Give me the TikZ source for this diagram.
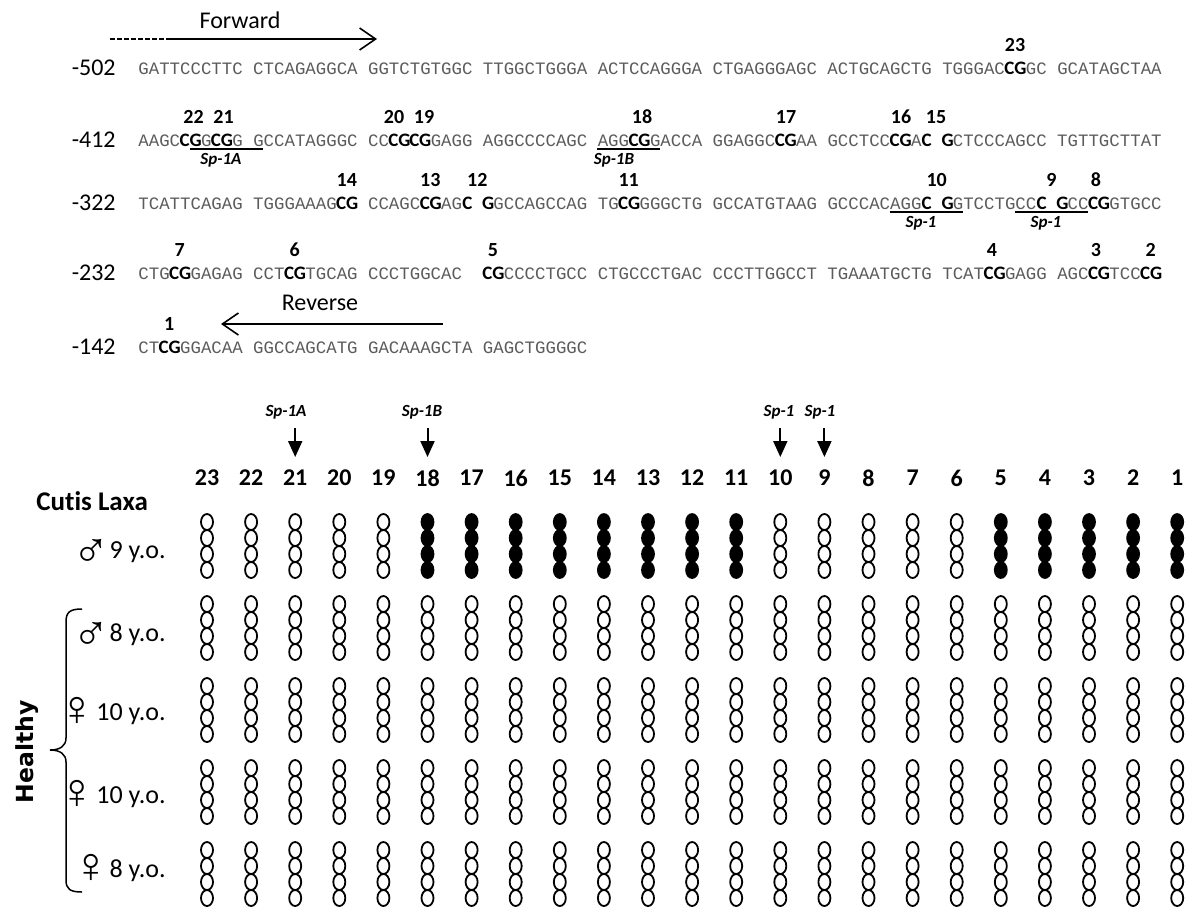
\documentclass[tikz,border=0pt]{standalone}
\usepackage{fontspec}
\setmainfont{Carlito}[Numbers=Lining,Ligatures=NoCommon]
\newfontfamily\seqfont{Liberation Mono}
\newfontfamily\gsym{Liberation Sans}
\newfontfamily\hfont{DejaVu Sans}
\usetikzlibrary{arrows.meta}
\definecolor{seqgray}{HTML}{5C5C5C}
% width of one character of the sequence font
\newlength\cw
\setlength\cw{5.22pt}
% bold CpG letters kept on the character grid
\newcommand\bz[1]{\makebox[\cw][c]{\normalfont\bfseries\fontsize{9.5}{10}\selectfont\color{black}#1}}
\newcommand\cgp{\makebox[2\cw][c]{\normalfont\bfseries\fontsize{9.5}{10}\selectfont\color{black}CG}}
% sex signs set in front of the ages
\newcommand\malesign{\raisebox{-4.5pt}[0pt][0pt]{\gsym\fontsize{25}{25}\selectfont ♂}}
\newcommand\femsign{\raisebox{-2.5pt}[0pt][0pt]{\gsym\fontsize{25}{25}\selectfont ♀}}
\begin{document}
\begin{tikzpicture}[x=0.5pt,y=-0.5pt,
  seqrow/.style={anchor=west,inner sep=0pt,text=seqgray,font=\seqfont\fontsize{8.7}{10}\selectfont},
  poslab/.style={anchor=east,inner sep=0pt,font=\fontsize{12}{14}\selectfont},
  cgnum/.style={inner sep=0pt,font=\bfseries\fontsize{10}{12}\selectfont},
  sitelab/.style={inner sep=0pt,font=\bfseries\itshape\fontsize{8.5}{10}\selectfont},
  siteline/.style={line width=1.4pt},
  primer/.style={line width=0.8pt},
  primertip/.style={-{Straight Barb[length=8pt,width=11pt]}},
  primerlab/.style={inner sep=0pt,font=\fontsize{12}{14}\selectfont},
  colnum/.style={inner sep=0pt,font=\bfseries\fontsize{12}{14}\selectfont},
  sitearrow/.style={line width=1pt,-{Triangle[length=8pt,width=7pt]}},
  openc/.style={draw=black,line width=0.9pt},
  agelab/.style={anchor=base east,inner sep=0pt,font=\fontsize{13}{15}\selectfont},
  grouplab/.style={inner sep=0pt,font=\bfseries\fontsize{13.5}{15}\selectfont},
  brace/.style={line width=0.75pt}]

\useasboundingbox (0,0) rectangle (1187,907);
\fill[white] (0,0) rectangle (1187,907);

% ---------------- promoter sequence ----------------
\node[primerlab] (fwd) at (240,20) {Forward};
\coordinate (fa) at (110,39);
\coordinate (fb) at (166,39);
\coordinate (fc) at (377,39);
\draw[primer,dash pattern=on 2.5pt off 1pt] (fa) -- (fb);
\draw[primer,primertip] (fb) -- (fc);

\node[poslab] (p502) at (116,68) {-502};
\node[seqrow] (s502) at (138,68) {GATTCCCTTC CTCAGAGGCA GGTCTGTGGC TTGGCTGGGA ACTCCAGGGA CTGAGGGAGC ACTGCAGCTG TGGGAC\cgp GC GCATAGCTAA};
\node[cgnum] (cg23) at (1015,45) {23};

\node[poslab] (p412) at (116,140) {-412};
\node[seqrow] (s412) at (138,140) {AAGC\cgp G\cgp G GCCATAGGGC CC\cgp\cgp GAGG AGGCCCCAGC AGG\cgp GACCA GGAGGC\cgp AA GCCTCC\cgp A\bz{C} \bz{G}CTCCCAGCC TGTTGCTTAT};
\node[cgnum] (cg22) at (193.5,117) {22};
\node[cgnum] (cg21) at (223.5,117) {21};
\node[cgnum] (cg20) at (394,117) {20};
\node[cgnum] (cg19) at (424,117) {19};
\node[cgnum] (cg18) at (642,117) {18};
\node[cgnum] (cg17) at (786,117) {17};
\node[cgnum] (cg16) at (901,117) {16};
\node[cgnum] (cg15) at (936,117) {15};
\coordinate (ua1) at (190.2,149);
\coordinate (ua2) at (263.3,149);
\draw[siteline] (ua1) -- (ua2);
\node[sitelab] (sq1a) at (221,160) {Sp-1A};
\coordinate (ub1) at (597.4,149);
\coordinate (ub2) at (660,149);
\draw[siteline] (ub1) -- (ub2);
\node[sitelab] (sq1b) at (614,160) {Sp-1B};

\node[poslab] (p322) at (116,203) {-322};
\node[seqrow] (s322) at (138,203) {TCATTCAGAG TGGGAAAG\cgp{} CCAGC\cgp AG\bz{C} \bz{G}GCCAGCCAG TG\cgp GGGCTG GCCATGTAAG GCCCACAGG\bz{C} \bz{G}GTCCTGCC\bz{C} \bz{G}CC\cgp GTGCC};
\node[cgnum] (cg14) at (346.8,180) {14};
\node[cgnum] (cg13) at (430.3,180) {13};
\node[cgnum] (cg12) at (477.3,180) {12};
\node[cgnum] (cg11) at (628.7,180) {11};
\node[cgnum] (cg10) at (936.7,180) {10};
\node[cgnum] (cg9) at (1051.5,180) {9};
\node[cgnum] (cg8) at (1096,180) {8};
\coordinate (uc1) at (889.7,212);
\coordinate (uc2) at (962.8,212);
\draw[siteline] (uc1) -- (uc2);
\node[sitelab] (sq1c) at (921,223) {Sp-1};
\coordinate (ud1) at (1015,212);
\coordinate (ud2) at (1088,212);
\draw[siteline] (ud1) -- (ud2);
\node[sitelab] (sq1d) at (1046,223) {Sp-1};

\node[poslab] (p232) at (116,273) {-232};
\node[seqrow] (s232) at (138,273) {CTG\cgp GAGAG CCT\cgp TGCAG CCCTGGCAC\hspace*{\cw} \cgp CCCCTGCC CTGCCCTGAC CCCTTGGCCT TGAAATGCTG TCAT\cgp GAGG AGC\cgp TCC\cgp};
\node[cgnum] (cg7) at (179.8,250) {7};
\node[cgnum] (cg6) at (294.6,250) {6};
\node[cgnum] (cg5) at (493,250) {5};
\node[cgnum] (cg4) at (992,250) {4};
\node[cgnum] (cg3) at (1096,250) {3};
\node[cgnum] (cg2) at (1150.7,250) {2};

\node[primerlab] (rev) at (320,303) {Reverse};
\coordinate (ra) at (443,324);
\coordinate (rb) at (221,324);
\draw[primer,primertip] (ra) -- (rb);
\node[cgnum] (cg1) at (169.3,324) {1};

\node[poslab] (p142) at (116,347) {-142};
\node[seqrow] (s142) at (138,347) {CT\cgp GGACAA GGCCAGCATG GACAAAGCTA GAGCTGGGGC};

% ---------------- methylation lattice ----------------
\foreach \k in {1,...,23}{
  \pgfmathsetmacro\xx{207+(23-\k)*44.1}
  \node[colnum] (c\k) at (\xx,478) {\k};
}

\node[sitelab] (l21) at (286,412) {Sp-1A};
\node[sitelab] (l18) at (422,412) {Sp-1B};
\node[sitelab] (l10) at (779,412) {Sp-1};
\node[sitelab] (l9) at (820,412) {Sp-1};
\coordinate (t21) at (295.2,428);  \coordinate (h21) at (295.2,457);
\coordinate (t18) at (427.5,428);  \coordinate (h18) at (427.5,457);
\coordinate (t10) at (780.3,428);  \coordinate (h10) at (780.3,457);
\coordinate (t9) at (824.4,428);   \coordinate (h9) at (824.4,457);
\draw[sitearrow] (t21) -- (h21);
\draw[sitearrow] (t18) -- (h18);
\draw[sitearrow] (t10) -- (h10);
\draw[sitearrow] (t9) -- (h9);

\foreach \yc [count=\g] in {546,628,710,792,874}{
  \foreach \k in {1,...,23}{
    \pgfmathsetmacro\xx{207+(23-\k)*44.1}
    \pgfmathtruncatemacro\dark{(\g==1)*((\k<=5)+(\k>=11)*(\k<=18))}
    \foreach \d in {-24,-8,8,24}{
      \ifnum\dark>0
        \fill[black] (\xx,\yc+\d) ellipse [x radius=6.9,y radius=8.9];
      \else
        \draw[openc] (\xx,\yc+\d) ellipse [x radius=6,y radius=8];
      \fi
    }
  }
}

% sample labels
\node[grouplab,anchor=base west] (cl) at (36,510) {Cutis Laxa};
\node[agelab] (a1) at (166,558) {\malesign 9 y.o.};
\node[agelab] (a2) at (166,641) {\malesign 8 y.o.};
\node[agelab] (a3) at (166,720) {\femsign 10 y.o.};
\node[agelab] (a4) at (166,803) {\femsign 10 y.o.};
\node[agelab] (a5) at (166,877) {\femsign 8 y.o.};

\node[inner sep=0pt,rotate=90,font=\hfont\bfseries\fontsize{11.75}{13}\selectfont] (hl) at (27,752) {Healthy};
\coordinate (br0) at (82,609);
\coordinate (br1) at (50,750);
\coordinate (br2) at (82,892);
\draw[brace] (br0) .. controls (70,609) and (66,612) .. (66,622) -- (66,738)
  .. controls (66,746) and (60,750) .. (br1)
  .. controls (60,750) and (66,754) .. (66,762) -- (66,880)
  .. controls (66,889) and (70,892) .. (br2);
\end{tikzpicture}
\end{document}
